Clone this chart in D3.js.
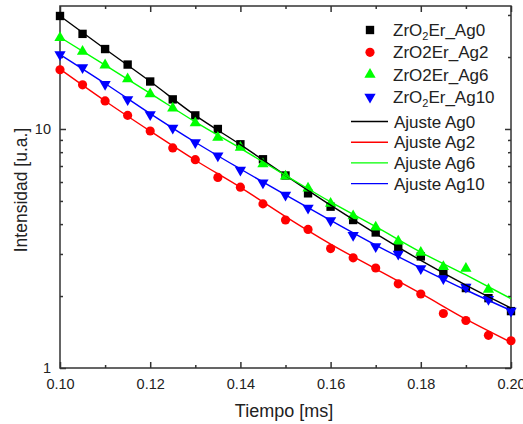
<!DOCTYPE html>
<html>
<head>
<meta charset="utf-8">
<title>decay</title>
<script src="https://d3js.org/d3.v7.min.js"></script>
<style>
  body { margin: 0; background: #fff; }
  text { font-family: "Liberation Sans", Arial, sans-serif; fill: #222; }
</style>
</head>
<body>
<div id="my_dataviz"></div>
<script>

// data
var tiempo = [0.100, 0.105, 0.110, 0.115, 0.120, 0.125, 0.130, 0.135, 0.140, 0.145, 0.150,
              0.155, 0.160, 0.165, 0.170, 0.175, 0.180, 0.185, 0.190, 0.195, 0.200];
var ag0  = [29.7, 25.0, 21.6, 18.6, 15.8, 13.3, 11.4, 10.0, 8.63, 7.47, 6.39, 5.38, 4.73, 4.16, 3.69, 3.17, 2.93, 2.53, 2.16, 1.96, 1.73];
var ag2  = [17.7, 15.3, 13.1, 11.4, 9.81, 8.33, 7.44, 6.27, 5.71, 4.86, 4.16, 3.80, 3.16, 2.89, 2.62, 2.25, 2.04, 1.69, 1.58, 1.37, 1.30];
var ag6  = [24.1, 21.1, 18.5, 16.2, 14.0, 12.2, 10.6, 9.21, 8.37, 7.14, 6.34, 5.65, 4.88, 4.32, 3.88, 3.39, 3.04, 2.65, 2.61, 2.13];
var ag10 = [20.5, 18.1, 15.4, 13.3, 11.5, 10.1, 8.78, 7.73, 6.74, 5.96, 5.29, 4.67, 4.14, 3.59, 3.22, 3.00, 2.61, 2.37, 2.18, 1.94, 1.73];

// fit curves (Ajuste), values every 0.01 ms
var ajusteX    = [0.10, 0.11, 0.12, 0.13, 0.14, 0.15, 0.16, 0.17, 0.18, 0.19, 0.20];
var ajusteAg0  = [29.7, 21.6, 15.8, 11.4, 8.60, 6.40, 4.80, 3.65, 2.82, 2.22, 1.78];
var ajusteAg2  = [17.8, 13.1, 9.80, 7.40, 5.70, 4.30, 3.30, 2.60, 2.05, 1.60, 1.28];
var ajusteAg6  = [24.2, 18.5, 14.1, 10.7, 8.30, 6.40, 4.95, 3.90, 3.05, 2.45, 1.95];
var ajusteAg10 = [20.5, 15.5, 11.6, 8.80, 6.80, 5.30, 4.15, 3.27, 2.62, 2.12, 1.74];

var xTicks = [0.10, 0.12, 0.14, 0.16, 0.18, 0.20];
var yTicks = [1, 10];

var width = 523, height = 424;
var pLeft = 60, pRight = 511, pTop = 6, pBottom = 368;

var svg = d3.select("#my_dataviz").append("svg")
    .attr("width", width)
    .attr("height", height);

var x = d3.scaleLinear().domain([0.10, 0.20]).range([pLeft, pRight]);
var y = d3.scaleLog().domain([1, 32.7]).range([pBottom, pTop]);

// minor ticks
var xMinor = [0.11, 0.13, 0.15, 0.17, 0.19];
var yMinor = [2, 3, 4, 5, 6, 7, 8, 9, 20, 30];

function tickGroup(axis, pos, major, minor, pad) {
  var g = svg.append("g").attr("transform", pos);
  g.call(axis.tickValues(major).tickSizeInner(-6).tickSizeOuter(0).tickPadding(pad || 8));
  g.select(".domain").remove();
  g.selectAll(".tick line").attr("stroke", "#333").attr("stroke-width", 1.5);
  var gm = svg.append("g").attr("transform", pos);
  gm.call(axis.tickValues(minor).tickSizeInner(-3).tickFormat(""));
  gm.select(".domain").remove();
  gm.selectAll(".tick line").attr("stroke", "#333").attr("stroke-width", 1.5);
  return g;
}

var fmt = d3.format(".2f");
var gx = tickGroup(d3.axisBottom(x).tickFormat(fmt), "translate(0," + pBottom + ")", xTicks, xMinor, 11);
gx.selectAll(".tick text").style("font-size", "14.5px").attr("fill", "#222")
  .text(function(d){ return fmt(d); });

var xTop = tickGroup(d3.axisTop(x), "translate(0," + pTop + ")", xTicks, xMinor);
xTop.selectAll("text").remove();

var gy = tickGroup(d3.axisLeft(y).tickFormat(d3.format("d")), "translate(" + pLeft + ",0)", yTicks, yMinor);
gy.selectAll(".tick text").style("font-size", "14.5px").attr("x", -9).attr("fill", "#222");

var yRight = tickGroup(d3.axisRight(y), "translate(" + pRight + ",0)", yTicks, yMinor);
yRight.selectAll("text").remove();

svg.selectAll("g").attr("font-family", null).attr("font-size", null);

// frame
svg.append("rect")
  .attr("x", pLeft).attr("y", pTop)
  .attr("width", pRight - pLeft).attr("height", pBottom - pTop)
  .attr("fill", "none").attr("stroke", "#333").attr("stroke-width", 1.5);

// axis titles
svg.append("text")
  .attr("x", 284).attr("y", 417)
  .attr("text-anchor", "middle")
  .style("font-size", "18px")
  .text("Tiempo [ms]");

svg.append("text")
  .attr("transform", "translate(27,190) rotate(-90)")
  .attr("text-anchor", "middle")
  .style("font-size", "17.5px")
  .text("Intensidad [u.a.]");

var series = [
  { vals: ag0,  fit: ajusteAg0,  color: "#000000", shape: d3.symbolSquare,   size: 70, rot: 0 },
  { vals: ag2,  fit: ajusteAg2,  color: "#ff0000", shape: d3.symbolCircle,   size: 66, rot: 0 },
  { vals: ag6,  fit: ajusteAg6,  color: "#00ff00", shape: d3.symbolTriangle, size: 55, rot: 0 },
  { vals: ag10, fit: ajusteAg10, color: "#0000ff", shape: d3.symbolTriangle, size: 55, rot: 180 }
];

var plot = svg.append("g");

// scatter
series.forEach(function(s) {
  plot.selectAll(null)
    .data(s.vals)
    .enter().append("path")
    .attr("d", d3.symbol().type(s.shape).size(s.size))
    .attr("transform", function(d, i) {
      return "translate(" + x(tiempo[i]) + "," + y(d) + ") rotate(" + s.rot + ")";
    })
    .attr("fill", s.color);
});

// fit curves
var line = d3.line()
  .x(function(d, i) { return x(ajusteX[i]); })
  .y(function(d) { return y(d); })
  .curve(d3.curveMonotoneX);

series.forEach(function(s) {
  plot.append("path")
    .attr("d", line(s.fit))
    .attr("fill", "none")
    .attr("stroke", s.color)
    .attr("stroke-width", 1.4);
});

// legend
var legend = svg.append("g");
var symLabels = [["ZrO", "2", "Er_Ag0"], ["ZrO2Er_Ag2"], ["ZrO2Er_Ag6"], ["ZrO", "2", "Er_Ag10"]];
var fitLabels = ["Ajuste Ag0", "Ajuste Ag2", "Ajuste Ag6", "Ajuste Ag10"];

series.forEach(function(s, i) {
  var cy = 30 + i * 22.3;
  legend.append("path")
    .attr("d", d3.symbol().type(s.shape).size(s.size))
    .attr("transform", "translate(370," + cy + ") rotate(" + s.rot + ")")
    .attr("fill", s.color);
  var t = legend.append("text")
    .attr("x", 393).attr("y", cy + 6)
    .style("font-size", "17px");
  var parts = symLabels[i];
  if (parts.length === 1) {
    t.text(parts[0]);
  } else {
    t.append("tspan").text(parts[0]);
    t.append("tspan").attr("dy", 4).style("font-size", "11px").text(parts[1]);
    t.append("tspan").attr("dy", -4).text(parts[2]);
  }
});

series.forEach(function(s, i) {
  var cy = 121.5 + i * 20.7;
  legend.append("line")
    .attr("x1", 351).attr("x2", 388)
    .attr("y1", cy).attr("y2", cy)
    .attr("stroke", s.color).attr("stroke-width", 1.4);
  legend.append("text")
    .attr("x", 394).attr("y", cy + 6)
    .style("font-size", "17px")
    .text(fitLabels[i]);
});

</script>
</body>
</html>
